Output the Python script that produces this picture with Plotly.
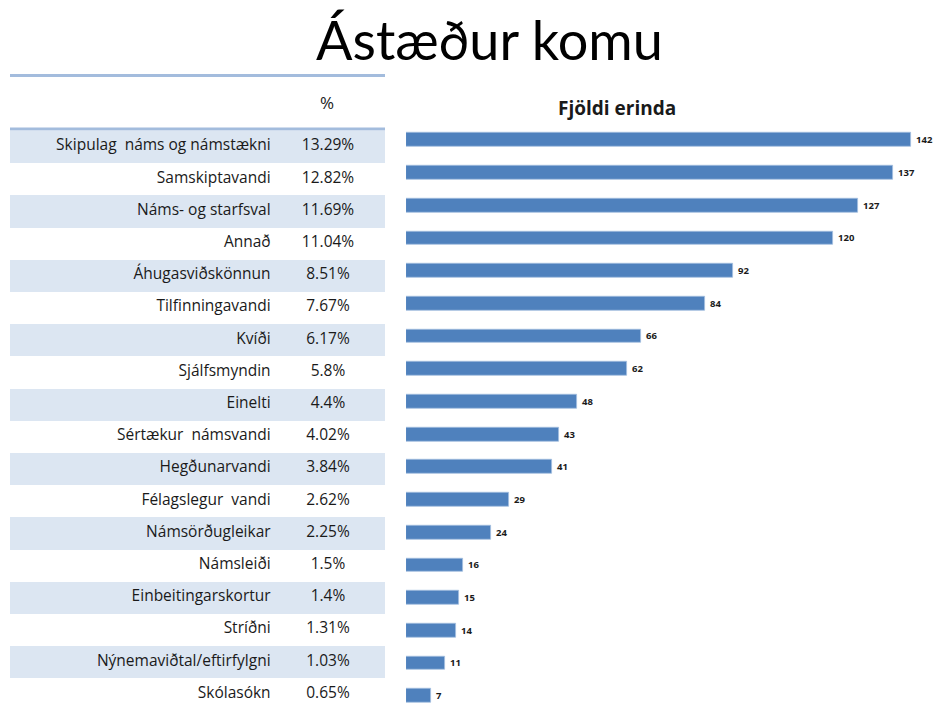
import plotly.graph_objects as go

# Ástæður komu - reasons for visits
reasons = [
    "Skipulag  náms og námstækni", "Samskiptavandi", "Náms- og starfsval", "Annað",
    "Áhugasviðskönnun", "Tilfinningavandi", "Kvíði", "Sjálfsmyndin", "Einelti",
    "Sértækur  námsvandi", "Hegðunarvandi", "Félagslegur  vandi", "Námsörðugleikar",
    "Námsleiði", "Einbeitingarskortur", "Stríðni", "Nýnemaviðtal/eftirfylgni", "Skólasókn",
]
percent_labels = [
    "13.29%", "12.82%", "11.69%", "11.04%", "8.51%", "7.67%", "6.17%", "5.8%", "4.4%",
    "4.02%", "3.84%", "2.62%", "2.25%", "1.5%", "1.4%", "1.31%", "1.03%", "0.65%",
]
counts = [142, 137, 127, 120, 92, 84, 66, 62, 48, 43, 41, 29, 24, 16, 15, 14, 11, 7]

FONT = "Open Sans"
TITLE_FONT = "Lato"
W, H = 941, 704
BAR_COLOR = "#4f81bd"
STRIPE = "#dce6f2"
RULE = "#a3bcdd"

n = len(reasons)
stripe_colors = [STRIPE if i % 2 == 0 else "white" for i in range(n)]

fig = go.Figure()

# table background stripes (full-width rows)
fig.add_trace(go.Bar(
    x=[1] * n, y=reasons, orientation="h", width=1,
    marker=dict(color=stripe_colors, line=dict(width=0)),
    xaxis="x2", yaxis="y", hoverinfo="skip", showlegend=False,
))

# table labels
fig.add_trace(go.Scatter(
    x=[0.695] * n, y=reasons, mode="text", text=reasons,
    textposition="middle left",
    textfont=dict(family=FONT, size=15.5, color="#1a1a1a"),
    xaxis="x2", yaxis="y", hoverinfo="skip", showlegend=False,
))
fig.add_trace(go.Scatter(
    x=[0.848] * n, y=reasons, mode="text", text=percent_labels,
    textposition="middle center",
    textfont=dict(family=FONT, size=15.5, color="#1a1a1a"),
    xaxis="x2", yaxis="y", hoverinfo="skip", showlegend=False,
))

# counts bar chart
fig.add_trace(go.Bar(
    x=counts, y=reasons, orientation="h", width=0.42,
    marker=dict(color=BAR_COLOR, line=dict(color="#a5bfdf", width=0.8)),
    text=counts, texttemplate="\u00a0<b>%{x}</b>", textposition="outside", cliponaxis=False,
    textfont=dict(family=FONT, size=9.5, color="#1a1a1a"),
    xaxis="x", yaxis="y2", showlegend=False,
))

# table rows: first row top at 130.5px, 32.2px per row
tbl_top, tbl_row = 130.5, 32.2
# bar rows: first centre at 140px, 32.7px per row
bar_top, bar_row = 140 - 32.7 / 2, 32.7

fig.update_layout(
    width=W, height=H,
    margin=dict(l=0, r=0, t=0, b=0),
    paper_bgcolor="white", plot_bgcolor="white",
    font=dict(family=FONT, color="#1a1a1a"),
    bargap=0,
    xaxis=dict(domain=[406 / W, 1.0], range=[0, 150.4], visible=False, fixedrange=True),
    xaxis2=dict(domain=[10 / W, 385 / W], range=[0, 1], visible=False, fixedrange=True),
    yaxis=dict(domain=[0, 1 - tbl_top / H],
               range=[(H - tbl_top) / tbl_row - 0.5, -0.5], visible=False,
               type="category", categoryorder="array", categoryarray=reasons),
    yaxis2=dict(domain=[0, 1 - bar_top / H],
                range=[(H - bar_top) / bar_row - 0.5, -0.5], visible=False,
                type="category", categoryorder="array", categoryarray=reasons),
    shapes=[
        dict(type="line", xref="paper", yref="paper", x0=10 / W, x1=385 / W,
             y0=1 - 75.5 / H, y1=1 - 75.5 / H, line=dict(color=RULE, width=3)),
        dict(type="line", xref="paper", yref="paper", x0=10 / W, x1=385 / W,
             y0=1 - 129 / H, y1=1 - 129 / H, line=dict(color=RULE, width=3)),
    ],
    annotations=[
        dict(text="Ástæður komu", xref="paper", yref="paper", x=489 / W, y=1 - 40 / H,
             showarrow=False, xanchor="center", yanchor="middle",
             font=dict(family=TITLE_FONT, size=54, color="black")),
        dict(text="%", xref="paper", yref="paper", x=327 / W, y=1 - 102 / H,
             showarrow=False, xanchor="center", yanchor="middle",
             font=dict(family=FONT, size=17, color="#1a1a1a")),
        dict(text="<b>Fjöldi erinda</b>", xref="paper", yref="paper", x=617 / W, y=1 - 108 / H,
             showarrow=False, xanchor="center", yanchor="middle",
             font=dict(family=FONT, size=19, color="#1a1a1a")),
    ],
)

# drop the default 8px page margin so the figure sits at the window's corner
fig.write_html("out.html", config={"displayModeBar": False},
               post_script="document.body.style.margin='0';")
